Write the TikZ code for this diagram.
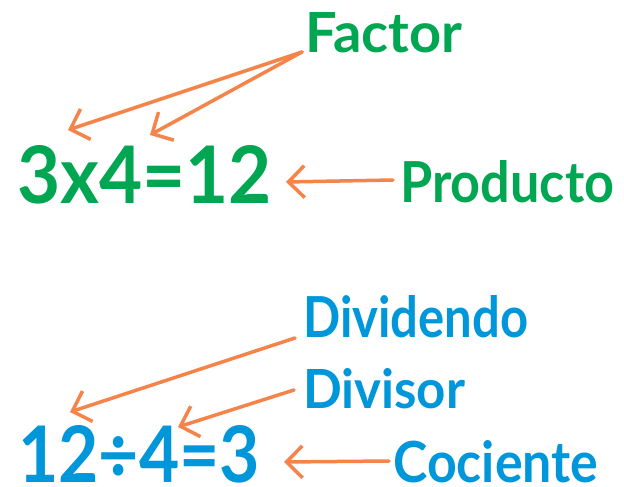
\documentclass[tikz,border=0pt]{standalone}
\usepackage{fontspec}
\setmainfont{Lato}
\usetikzlibrary{arrows.meta}
\definecolor{fgreen}{RGB}{0,166,81}
\definecolor{dblue}{RGB}{0,150,218}
\definecolor{arr}{RGB}{244,132,74}
\newcommand{\fitbox}[3]{\resizebox{#1pt}{#2pt}{\bfseries #3}}
\tikzset{
  lbl/.style={inner sep=0pt, anchor=base west},
  pointer/.style={draw=arr, line width=3.5pt, line cap=round, line join=round,
    -{Straight Barb[length=16pt,width=32pt,line width=3.5pt]}}
}
\begin{document}
\begin{tikzpicture}[x=1pt,y=-1pt]
\useasboundingbox (0,0) rectangle (624,487);
% top
\node[lbl, text=fgreen] (factor) at (305,53) {\fitbox{157}{40}{Factor}};
\node[lbl, text=fgreen] (mult) at (17,203) {\fitbox{255}{58}{3x4=12}};
\node[lbl, text=fgreen] (producto) at (400,202) {\fitbox{214}{42}{Producto}};
\coordinate (f1) at (68,130);
\coordinate (f2) at (150,135);
\coordinate (p1) at (286,182);
\draw[pointer] ([shift={(-3,-1)}]factor.base west) -- (f1);
\draw[pointer] ([shift={(-3,-1)}]factor.base west) -- (f2);
\draw[pointer] ([shift={(-7,-22)}]producto.base west) -- (p1);
% bottom
\node[lbl, text=dblue] (dividendo) at (303,337) {\fitbox{225}{42}{Dividendo}};
\node[lbl, text=dblue] (divisor) at (303,408) {\fitbox{162}{40}{Divisor}};
\node[lbl, text=dblue] (div) at (18,482) {\fitbox{242}{57}{12÷4=3}};
\node[lbl, text=dblue] (cociente) at (393,482) {\fitbox{205}{42}{Cociente}};
\coordinate (d1) at (70,412);
\coordinate (d2) at (178,427);
\coordinate (c1) at (284,462);
\draw[pointer] ([shift={(-8,1)}]dividendo.base west) -- (d1);
\draw[pointer] ([shift={(-9,-18)}]divisor.base west) -- (d2);
\draw[pointer] ([shift={(-4,-21)}]cociente.base west) -- (c1);
\end{tikzpicture}
\end{document}
